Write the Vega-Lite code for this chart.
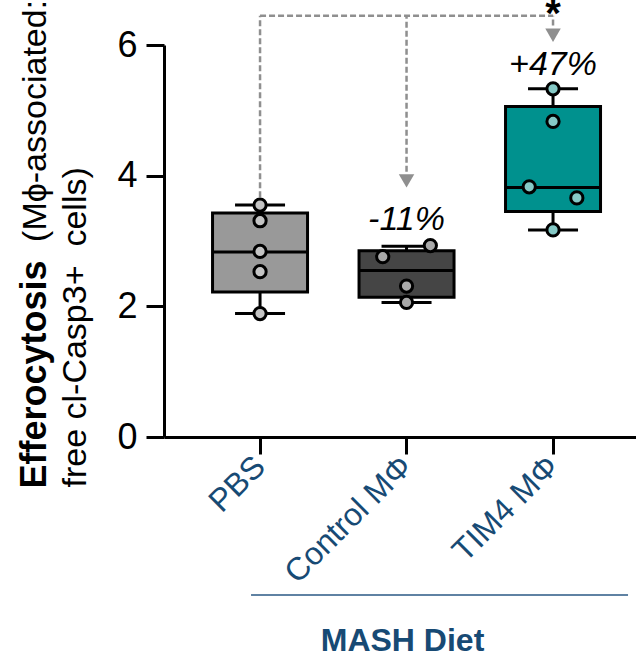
{
  "$schema": "https://vega.github.io/schema/vega-lite/v6.json",
  "width": 472,
  "height": 392,
  "autosize": "none",
  "padding": {"left": 164, "top": 45, "right": 0, "bottom": 219},
  "background": "white",
  "config": {"view": {"stroke": null}, "font": "Liberation Sans"},
  "datasets": {
    "stats": [
      {"group": "PBS", "min": 1.89, "q1": 2.22, "median": 2.83, "q3": 3.43, "max": 3.55},
      {"group": "Control MΦ", "min": 2.06, "q1": 2.14, "median": 2.55, "q3": 2.85, "max": 2.92},
      {"group": "TIM4 MΦ", "min": 3.17, "q1": 3.45, "median": 3.82, "q3": 5.06, "max": 5.33}
    ],
    "points": [
      {"group": "PBS", "side": "C", "value": 3.55},
      {"group": "PBS", "side": "C", "value": 3.31},
      {"group": "PBS", "side": "C", "value": 2.84},
      {"group": "PBS", "side": "C", "value": 2.53},
      {"group": "PBS", "side": "C", "value": 1.89},
      {"group": "Control MΦ", "side": "R", "value": 2.93},
      {"group": "Control MΦ", "side": "L", "value": 2.76},
      {"group": "Control MΦ", "side": "C", "value": 2.31},
      {"group": "Control MΦ", "side": "C", "value": 2.06},
      {"group": "TIM4 MΦ", "side": "C", "value": 5.33},
      {"group": "TIM4 MΦ", "side": "C", "value": 4.83},
      {"group": "TIM4 MΦ", "side": "L", "value": 3.83},
      {"group": "TIM4 MΦ", "side": "R", "value": 3.66},
      {"group": "TIM4 MΦ", "side": "C", "value": 3.17}
    ],
    "vlines": [
      {"group": "PBS", "from": 3.67, "to": 6.449},
      {"group": "Control MΦ", "from": 4.06, "to": 6.449},
      {"group": "TIM4 MΦ", "from": 6.3, "to": 6.449}
    ],
    "hline": [{"a": "PBS", "b": "TIM4 MΦ", "y": 6.449}],
    "arrows": [
      {"group": "Control MΦ", "y": 3.92},
      {"group": "TIM4 MΦ", "y": 6.15}
    ],
    "pct": [
      {"group": "Control MΦ", "y": 3.17, "label": "-11%"},
      {"group": "TIM4 MΦ", "y": 5.54, "label": "+47%"}
    ],
    "star": [{"group": "TIM4 MΦ", "y": 6.27, "label": "*"}]
  },
  "layer": [
    {
      "data": {"name": "stats"},
      "mark": {"type": "rule", "color": "black", "strokeWidth": 3},
      "encoding": {
        "x": {
          "field": "group", "type": "nominal",
          "scale": {"type": "band", "domain": ["PBS", "Control MΦ", "TIM4 MΦ"], "paddingInner": 0.35, "paddingOuter": 0.286, "align": 0.578},
          "axis": {
            "title": "MASH Diet", "titleFontSize": 32, "titleFontWeight": "bold", "titleColor": "#174a74",
            "titleX": 238, "titleY": 213, "titleAlign": "center", "titleBaseline": "alphabetic",
            "labelAngle": -45, "labelFontSize": 32, "labelColor": "#174a74", "labelAlign": "right", "labelBaseline": "middle", "labelPadding": 7,
            "tickSize": 17, "tickWidth": 3, "tickColor": "black", "domainColor": "black", "domainWidth": 3, "grid": false
          }
        },
        "y": {
          "field": "min", "type": "quantitative",
          "scale": {"domain": [0, 6], "nice": false},
          "axis": {
            "values": [0, 2, 4, 6], "labelFontSize": 36, "labelColor": "black", "labelPadding": 9,
            "tickSize": 18, "tickWidth": 3, "tickColor": "black", "domainColor": "black", "domainWidth": 3, "grid": false,
            "title": ["\u200b\u00a0\u00a0\u00a0\u00a0\u00a0\u00a0\u00a0\u00a0\u00a0\u00a0\u00a0\u00a0\u00a0\u00a0\u00a0\u00a0\u00a0\u00a0\u00a0\u00a0\u00a0\u00a0\u00a0\u00a0\u00a0\u00a0(Mϕ-associated:", "free cl-Casp3+\u00a0 cells)"],
            "titleFontSize": 34, "titleFontWeight": "normal", "titleColor": "black", "titleAngle": 270,
            "titleAlign": "left", "titleBaseline": "alphabetic", "titleLineHeight": 40, "titleX": -119, "titleY": 442
          }
        },
        "y2": {"field": "max"}
      }
    },
    {
      "data": {"name": "stats"},
      "mark": {"type": "bar", "stroke": "black", "strokeWidth": 3, "width": 95},
      "encoding": {
        "x": {"field": "group", "type": "nominal"},
        "y": {"field": "q1", "type": "quantitative", "axis": null},
        "y2": {"field": "q3"},
        "color": {"field": "group", "type": "nominal", "scale": {"domain": ["PBS", "Control MΦ", "TIM4 MΦ"], "range": ["#999999", "#454545", "#00918e"]}, "legend": null}
      }
    },
    {
      "data": {"name": "stats"},
      "mark": {"type": "tick", "color": "black", "thickness": 3, "size": 95, "opacity": 1},
      "encoding": {
        "x": {"field": "group", "type": "nominal"},
        "y": {"field": "median", "type": "quantitative", "axis": null}
      }
    },
    {
      "data": {"name": "stats"},
      "mark": {"type": "tick", "color": "black", "thickness": 3, "size": 50, "opacity": 1},
      "encoding": {
        "x": {"field": "group", "type": "nominal"},
        "y": {"field": "min", "type": "quantitative", "axis": null}
      }
    },
    {
      "data": {"name": "stats"},
      "mark": {"type": "tick", "color": "black", "thickness": 3, "size": 50, "opacity": 1},
      "encoding": {
        "x": {"field": "group", "type": "nominal"},
        "y": {"field": "max", "type": "quantitative", "axis": null}
      }
    },
    {
      "data": {"name": "vlines"},
      "mark": {"type": "rule", "color": "#8f8f8f", "strokeWidth": 2.5, "strokeDash": [6, 3]},
      "encoding": {
        "x": {"field": "group", "type": "nominal"},
        "y": {
          "field": "from", "type": "quantitative",
          "axis": {
            "orient": "right", "labels": false, "ticks": false, "domain": false, "grid": false,
            "title": "Efferocytosis", "titleFontSize": 36, "titleFontWeight": "bold", "titleColor": "black",
            "titleAngle": 270, "titleAlign": "left", "titleBaseline": "alphabetic", "titleX": -591, "titleY": 443
          }
        },
        "y2": {"field": "to"}
      }
    },
    {
      "data": {"name": "hline"},
      "mark": {"type": "rule", "color": "#8f8f8f", "strokeWidth": 2.5, "strokeDash": [6, 3]},
      "encoding": {
        "x": {"field": "a", "type": "nominal"},
        "x2": {"field": "b"},
        "y": {"field": "y", "type": "quantitative", "axis": null}
      }
    },
    {
      "data": {"name": "points"},
      "mark": {"type": "circle", "size": 150, "stroke": "black", "strokeWidth": 3, "opacity": 1},
      "encoding": {
        "x": {"field": "group", "type": "nominal"},
        "xOffset": {"field": "side", "type": "nominal", "scale": {"domain": ["L", "C", "R"], "paddingInner": 0, "paddingOuter": 2.16}},
        "y": {"field": "value", "type": "quantitative", "axis": null},
        "fill": {"field": "group", "type": "nominal", "scale": {"domain": ["PBS", "Control MΦ", "TIM4 MΦ"], "range": ["#c4c4c4", "#a9a9a9", "#85c9c6"]}, "legend": null}
      }
    },
    {
      "data": {"name": "arrows"},
      "mark": {"type": "point", "shape": "triangle-down", "filled": true, "color": "#8f8f8f", "size": 240, "opacity": 1},
      "encoding": {
        "x": {"field": "group", "type": "nominal"},
        "y": {"field": "y", "type": "quantitative", "axis": null}
      }
    },
    {
      "data": {"name": "pct"},
      "mark": {"type": "text", "fontSize": 34, "fontStyle": "italic", "align": "center", "baseline": "alphabetic", "color": "black"},
      "encoding": {
        "x": {"field": "group", "type": "nominal"},
        "y": {"field": "y", "type": "quantitative", "axis": null},
        "text": {"field": "label"}
      }
    },
    {
      "data": {"name": "star"},
      "mark": {"type": "text", "fontSize": 40, "fontWeight": "bold", "align": "center", "baseline": "alphabetic", "color": "black"},
      "encoding": {
        "x": {"field": "group", "type": "nominal"},
        "y": {"field": "y", "type": "quantitative", "axis": null},
        "text": {"field": "label"}
      }
    },
    {
      "data": {"values": [{}]},
      "mark": {"type": "rule", "color": "#5f82a3", "strokeWidth": 2, "xOffset": -9, "x2Offset": 75},
      "encoding": {
        "x": {"datum": "PBS", "type": "nominal"},
        "x2": {"datum": "TIM4 MΦ"},
        "y": {"datum": -2.42, "type": "quantitative", "axis": null}
      }
    }
  ],
  "resolve": {"axis": {"y": "independent"}}
}
